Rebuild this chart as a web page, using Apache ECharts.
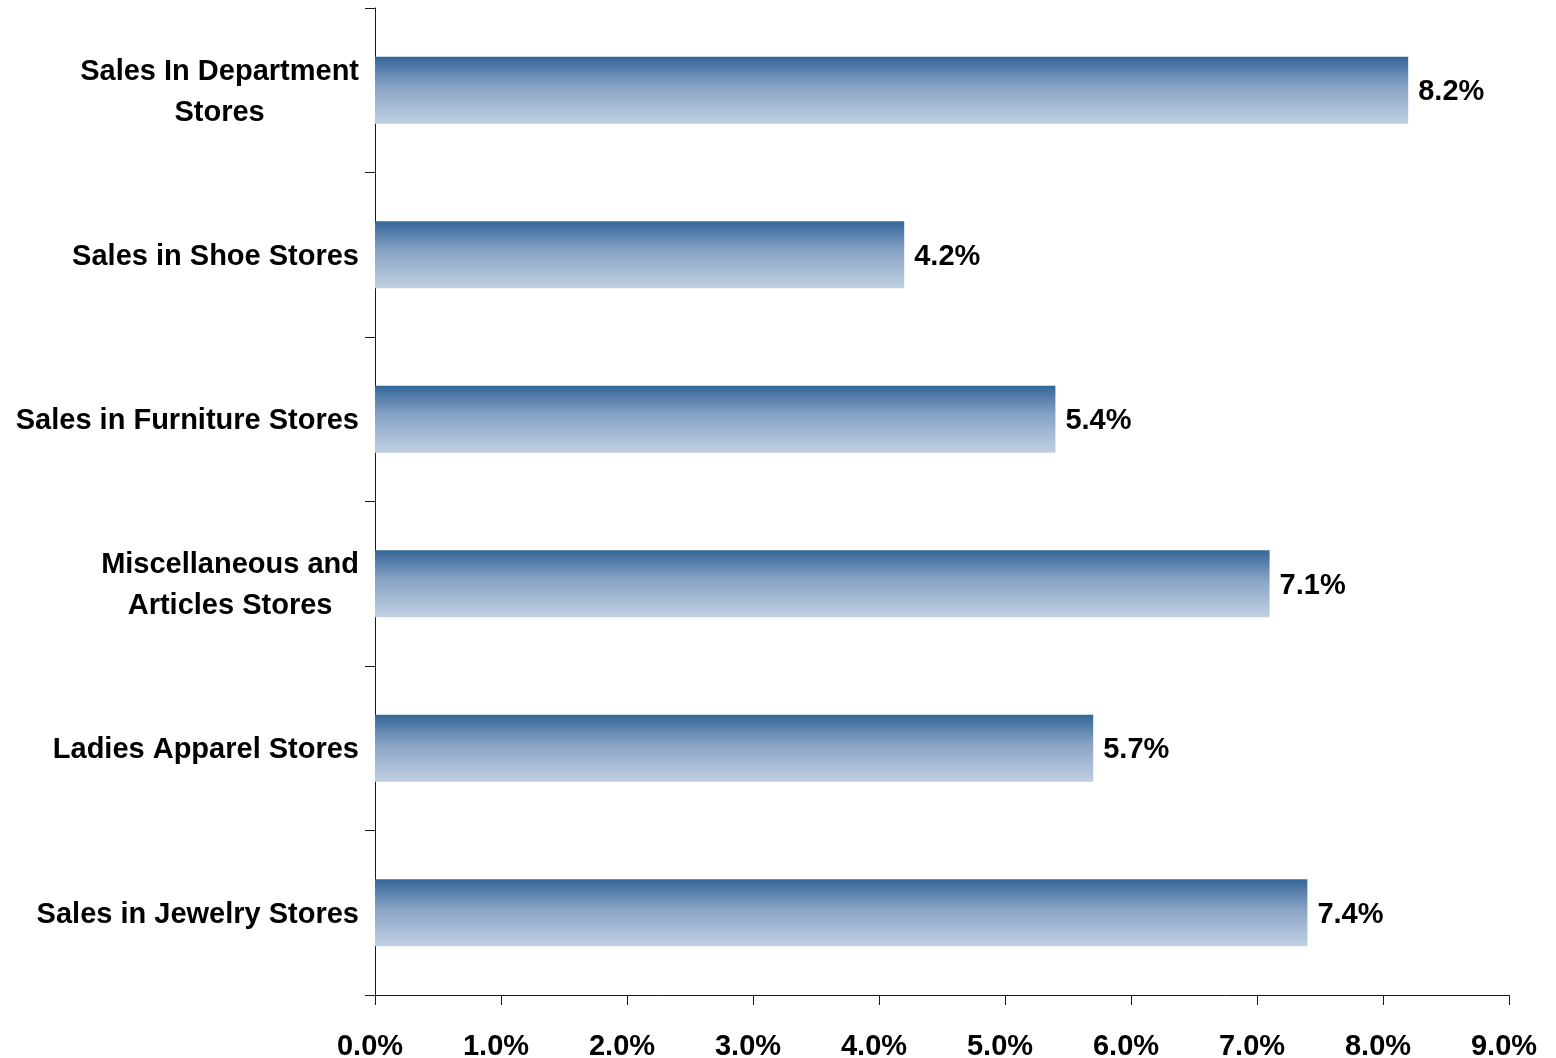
<!DOCTYPE html>
<html>
<head>
<meta charset="utf-8">
<script src="https://cdn.jsdelivr.net/npm/echarts@6/dist/echarts.min.js"></script>
<style>
  html, body { margin: 0; padding: 0; background: #fff; }
  #chart { width: 1556px; height: 1058px; }
</style>
</head>
<body>
<div id="chart"></div>
<script>
// Store categories (top to bottom) and their growth rates in percent
const categories = [
  'Sales In Department\nStores',
  'Sales in Shoe Stores',
  'Sales in Furniture Stores',
  'Miscellaneous and\nArticles Stores',
  'Ladies Apparel Stores',
  'Sales in Jewelry Stores'
];
const values = [8.2, 4.2, 5.4, 7.1, 5.7, 7.4];
const axisMin = 0;
const axisMax = 9;
const axisStep = 1;

const FONT = 'Liberation Sans, Arial, sans-serif';
const FS = 29;

const chart = echarts.init(document.getElementById('chart'), null, { renderer: 'canvas' });

chart.setOption({
  animation: false,
  backgroundColor: '#ffffff',
  grid: { left: 375, right: 47, top: 8, bottom: 63, containLabel: false, outerBoundsMode: 'none' },
  xAxis: {
    type: 'value',
    min: axisMin,
    max: axisMax,
    interval: axisStep,
    splitLine: { show: false },
    axisLine: { show: true, lineStyle: { color: '#1a1a1a', width: 1 } },
    axisTick: { show: true, length: 10, lineStyle: { color: '#1a1a1a' } },
    axisLabel: {
      margin: 35,
      fontFamily: FONT,
      fontWeight: 'bold',
      fontSize: FS,
      color: '#000',
      padding: [2, 10, 0, 0],
      formatter: v => v.toFixed(1) + '%'
    }
  },
  yAxis: {
    type: 'category',
    data: categories,
    inverse: true,
    axisLine: { show: true, lineStyle: { color: '#1a1a1a', width: 1 } },
    axisTick: { show: true, length: 10, lineStyle: { color: '#1a1a1a' } },
    axisLabel: {
      margin: 16,
      align: 'right',
      padding: [4, 0, 0, 0],
      fontFamily: FONT,
      fontWeight: 'bold',
      fontSize: FS,
      color: '#000',
      formatter: v => v.split('\n').map(s => '{c|' + s + '}').join('\n'),
      rich: {
        c: {
          align: 'center',
          fontFamily: FONT,
          fontWeight: 'bold',
          fontSize: FS,
          lineHeight: 41,
          color: '#000'
        }
      }
    }
  },
  series: [{
    type: 'bar',
    data: values,
    barWidth: 67,
    itemStyle: {
      color: new echarts.graphic.LinearGradient(0, 0, 0, 1, [
        { offset: 0, color: '#336699' },
        { offset: 0.45, color: '#8aa4c6' },
        { offset: 1, color: '#c0d0e2' }
      ])
    },
    label: {
      show: true,
      position: 'right',
      distance: 10,
      offset: [0, 2],
      fontFamily: FONT,
      fontWeight: 'bold',
      fontSize: FS,
      color: '#000',
      formatter: p => p.value.toFixed(1) + '%'
    }
  }]
});
</script>
</body>
</html>
